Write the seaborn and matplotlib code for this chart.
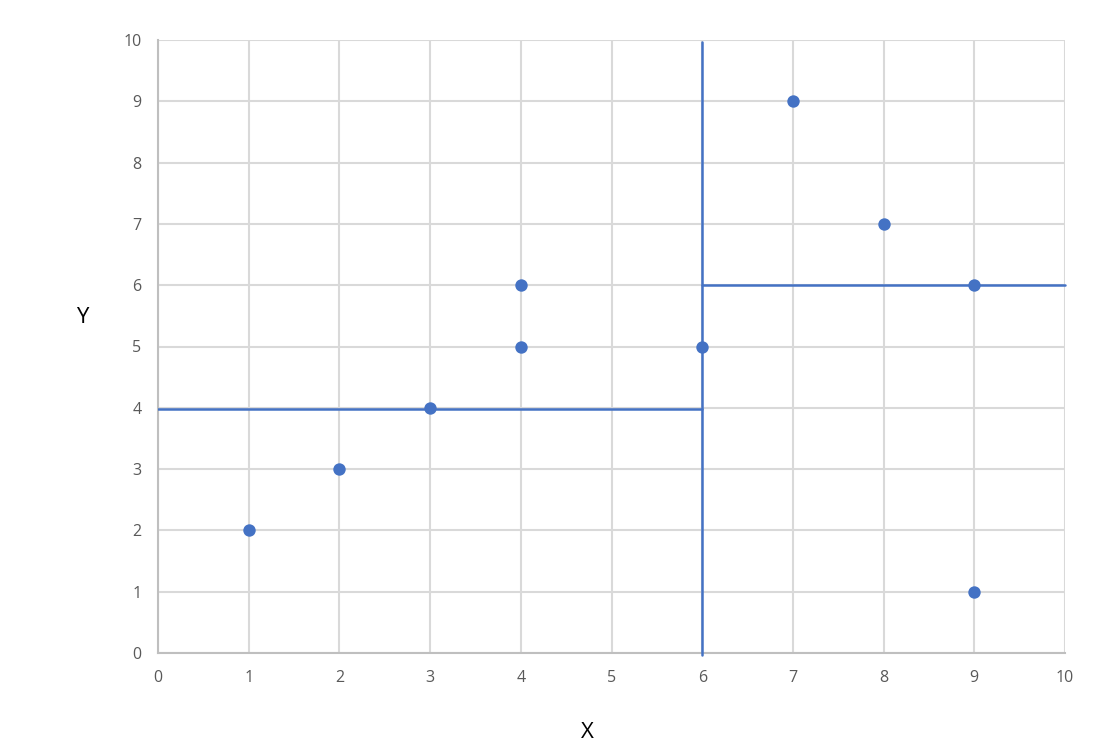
import matplotlib
matplotlib.use("Agg")
import matplotlib.pyplot as plt
import seaborn as sns
import pandas as pd

# Data
x_vals = [1, 2, 3, 4, 4, 6, 7, 8, 9, 9]
y_vals = [2, 3, 4, 5, 6, 5, 9, 7, 6, 1]
ticks = list(range(0, 11))

# Split lines (x split at 6; left region level 4, right region level 6)
split_x = 6
left_level = 4
right_level = 6
x_min, x_max = 0, 10
y_min, y_max = 0, 10

df = pd.DataFrame({"X": x_vals, "Y": y_vals})

sns.set_theme(style="white")
plt.rcParams['font.family'] = ['Open Sans', 'DejaVu Sans']

fig = plt.figure(figsize=(11, 7.56), dpi=100)
ax = fig.add_axes([158/1100, 1 - 653/756, (1065 - 158)/1100, (653 - 40)/756])

blue = "#4472c4"

ax.set_xlim(x_min, x_max)
ax.set_ylim(y_min, y_max)
ax.set_xticks(ticks)
ax.set_yticks(ticks)
ax.grid(True, color="#d9d9d9", linewidth=1.5, zorder=0)
ax.set_axisbelow(True)

for side in ["top", "right"]:
    ax.spines[side].set_visible(False)
for side in ["left", "bottom"]:
    ax.spines[side].set_color("#bfbfbf")
    ax.spines[side].set_linewidth(1.5)

ax.plot([split_x, split_x], [y_min - 0.03, y_max - 0.03], color=blue, lw=1.8, zorder=3, clip_on=False)
ax.plot([x_min, split_x], [left_level - 0.02, left_level - 0.02], color=blue, lw=1.8, zorder=3)
ax.plot([split_x, x_max], [right_level, right_level], color=blue, lw=1.8, zorder=3, clip_on=False)

sns.scatterplot(data=df, x="X", y="Y", ax=ax, color=blue, s=80, edgecolor=blue,
                linewidth=0, zorder=4, clip_on=False)

ax.tick_params(axis="both", length=0, labelsize=11.5, labelcolor="#595959", pad=12)
ax.set_xlabel("X", fontsize=16, color="black", va="center")
ax.xaxis.set_label_coords(0.473, -0.13)
ax.set_ylabel("Y", fontsize=16, color="black", rotation=0, va="center")
ax.yaxis.set_label_coords(-0.083, 0.547)

fig.savefig("out.png", dpi=100)
